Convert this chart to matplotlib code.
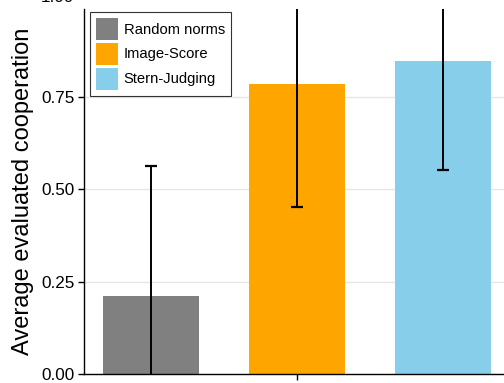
import matplotlib
matplotlib.use("Agg")
import matplotlib.pyplot as plt
import matplotlib.transforms as mtransforms

plt.rcParams['font.family'] = ['Liberation Sans', 'DejaVu Sans']

categories = ["Random norms", "Image-Score", "Stern-Judging"]
means = [0.212, 0.785, 0.848]
errors = [0.350, 0.334, 0.296]
colors = ["#808080", "#FFA500", "#87CEEB"]
yticks = [0.0, 0.25, 0.5, 0.75]
ytick_labels = ["0.00", "0.25", "0.50", "0.75"]
top_label = "1.00"

fig = plt.figure(figsize=(5.04, 3.83), dpi=100)
ax = fig.add_axes([84/504, 9/383, 426/504, (374-9)/383])

x = list(range(len(categories)))
for xi, m, e, c, lab in zip(x, means, errors, colors, categories):
    ax.bar(xi, m, width=0.655, color=c, label=lab, zorder=2)
    ax.errorbar(xi, m, yerr=e, color="black", capsize=4, elinewidth=1.4,
                capthick=1.6, zorder=3)

ax.set_xlim(-0.457, 2.457)
ax.set_ylim(0, 0.988)
ax.set_yticks(yticks)
ax.set_yticklabels(ytick_labels)
ax.set_xticks([1])
ax.set_xticklabels([""])
ax.yaxis.grid(True, color="#e6e6e6", linewidth=1.0, zorder=0)
ax.set_axisbelow(True)
for s in ["top", "right"]:
    ax.spines[s].set_visible(False)
for s in ["left", "bottom"]:
    ax.spines[s].set_linewidth(1.0)
ax.tick_params(axis="both", direction="out", length=4, width=1.0, labelsize=12.3,
               colors="black", pad=3)
ax.set_ylabel("Average evaluated cooperation", fontsize=17, labelpad=5)

# partially visible top tick label (cut by the figure edge, as in the reference)
trans = mtransforms.blended_transform_factory(ax.transAxes, ax.transData)
ax.text(-0.0235, 1.0, top_label, transform=trans, ha="right", va="bottom",
        fontsize=12.3, clip_on=False)

leg = ax.legend(loc="upper left", bbox_to_anchor=(0.014, 0.992), fontsize=10.6,
                frameon=True, fancybox=False, edgecolor="black",
                handlelength=1.5, handleheight=1.925, handletextpad=0.4,
                labelspacing=0.2, borderpad=0.4, borderaxespad=0)
leg.get_frame().set_linewidth(0.8)

fig.savefig("out.png", dpi=100)
